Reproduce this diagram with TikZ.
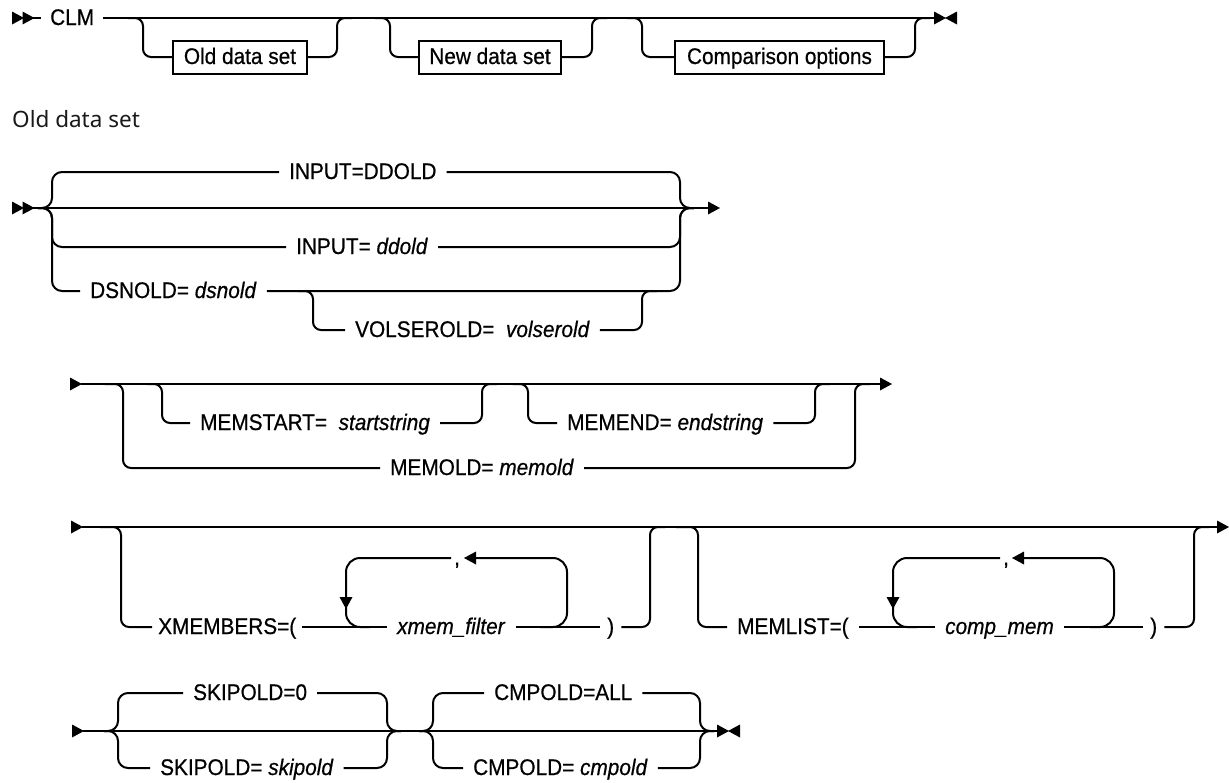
\documentclass[tikz,border=0pt]{standalone}
\usepackage{fontspec}
\setmainfont{Liberation Sans}
\newfontfamily\railfont[FakeStretch=0.92,FakeBold=0.6]{Liberation Sans}
\newfontfamily\headfont{Noto Sans}
\newcommand\rtri[2]{\fill (#1,#2-6.5) -- (#1+12,#2) -- (#1,#2+6.5) -- cycle;}
\newcommand\ltri[2]{\fill (#1+12,#2-6.5) -- (#1,#2) -- (#1+12,#2+6.5) -- cycle;}
\newcommand\dtri[2]{\fill (#1-6.5,#2-12) -- (#1,#2) -- (#1+6.5,#2-12) -- cycle;}
\begin{document}
\begin{tikzpicture}[x=1pt,y=-1pt,
  rail/.style={line width=2pt, rounded corners=8pt},
  brace/.style={line width=2pt, rounded corners=10pt},
  lp/.style={line width=2pt, rounded corners=14pt},
  lbl/.style={font=\railfont\fontsize{22.6}{26}\selectfont, inner xsep=10pt, inner ysep=0pt,
              text height=16pt, text depth=2pt, anchor=west},
  box/.style={draw, line width=2pt, font=\railfont\fontsize{22.6}{26}\selectfont, inner xsep=10.5pt,
              inner ysep=0pt, minimum height=33pt, text height=16pt, text depth=2pt}]
\useasboundingbox (0,0) rectangle (1229,782);

% ---------------- Row 1 ----------------
\rtri{12}{18}\rtri{22.5}{18}
\coordinate (s1) at (33,18);
\coordinate (e1) at (935,18);
\node[lbl, inner xsep=9pt] (clm) at (41,18) {CLM};
\draw[rail] (s1) -- (clm.west);
\draw[rail] (clm.east) -- (e1);
\node[box] (b1) at (240,57) {Old data set};
\node[box] (b2) at (490,57) {New data set};
\node[box, inner xsep=12pt] (b3) at (779.5,57) {Comparison options};
\draw[rail] (128,18) -- (143,18) -- (143,57) -- (b1.west);
\draw[rail] (b1.east) -- (337,57) -- (337,18) -- (352,18);
\draw[rail] (375,18) -- (390,18) -- (390,57) -- (b2.west);
\draw[rail] (b2.east) -- (592,57) -- (592,18) -- (607,18);
\draw[rail] (627,18) -- (642,18) -- (642,57) -- (b3.west);
\draw[rail] (b3.east) -- (915,57) -- (915,18) -- (930,18);
\rtri{934}{18}\ltri{945}{18}

% heading
\node[anchor=base west, inner sep=0pt, text=black!90,
      font=\headfont\fontsize{22.5}{26}\selectfont] (head) at (12,127) {Old data set};

% ---------------- Row 2 ----------------
\rtri{12}{208}\rtri{22.5}{208}
\coordinate (s2) at (33,208);
\coordinate (e2) at (709,208);
\draw[rail] (s2) -- (e2);
\rtri{708}{208}
\node[lbl] (i1) at (279,172) {INPUT=DDOLD};
\node[lbl] (i2) at (286,247) {INPUT= \textit{ddold}};
\node[lbl] (d1) at (80,291) {DSNOLD= \textit{dsnold}};
\node[lbl] (v1) at (345,330) {VOLSEROLD=\ \ \textit{volserold}};
\draw[brace] (38,208) -- (52,208) -- (52,172) -- (i1.west);
\draw[brace] (i1.east) -- (680,172) -- (680,208) -- (694,208);
\draw[brace] (38,208) -- (52,208) -- (52,247) -- (i2.west);
\draw[brace] (i2.east) -- (680,247) -- (680,208) -- (694,208);
\draw[brace] (38,208) -- (52,208) -- (52,291) -- (d1.west);
\draw[brace] (d1.east) -- (680,291) -- (680,208) -- (694,208);
\draw[rail] (298,291) -- (313,291) -- (313,330) -- (v1.west);
\draw[rail] (v1.east) -- (642,330) -- (642,291) -- (657,291);

% ---------------- Row 3 ----------------
\rtri{70}{384}
\coordinate (s3) at (81,384);
\coordinate (e3) at (882,384);
\draw[rail] (s3) -- (e3);
\rtri{880}{384}
\node[lbl] (ms) at (190,423) {MEMSTART=\ \ \textit{startstring}};
\node[lbl] (me) at (557,423) {MEMEND= \textit{endstring}};
\node[lbl] (mo) at (380,468) {MEMOLD= \textit{memold}};
\draw[rail] (105,384) -- (123,384) -- (123,468) -- (mo.west);
\draw[rail] (mo.east) -- (855,468) -- (855,384) -- (870,384);
\draw[rail] (147,384) -- (162,384) -- (162,423) -- (ms.west);
\draw[rail] (ms.east) -- (482,423) -- (482,384) -- (497,384);
\draw[rail] (513,384) -- (528,384) -- (528,423) -- (me.west);
\draw[rail] (me.east) -- (815,423) -- (815,384) -- (830,384);

% ---------------- Row 4 ----------------
\rtri{71}{527}
\coordinate (s4) at (82,527);
\coordinate (e4) at (1219,527);
\draw[rail] (s4) -- (e4);
\rtri{1217}{527}
\node[lbl, inner xsep=6pt] (xm) at (152,627) {XMEMBERS=(};
\node[lbl] (xf) at (387,627) {\textit{xmem\_filter}};
\node[lbl, inner xsep=7pt] (rp1) at (600,627) {)};
\node[lbl, inner xsep=3pt] (cm1) at (451,558) {,};
\draw[rail] (100,527) -- (121,527) -- (121,627) -- (xm.west);
\draw[rail] (xm.east) -- (xf.west);
\draw[rail] (xf.east) -- (rp1.west);
\draw[rail] (rp1.east) -- (650,627) -- (650,527) -- (665,527);
\draw[lp] (cm1.west) -- (346,558) -- (346,627) -- (370,627);
\draw[lp] (475,558) -- (567,558) -- (567,627) -- (540,627);
\ltri{464}{558}
\dtri{346}{609}
\node[lbl] (ml) at (727,627) {MEMLIST=(};
\node[lbl] (cmem) at (935,627) {\textit{comp\_mem}};
\node[lbl, inner xsep=7pt] (rp2) at (1143,627) {)};
\node[lbl, inner xsep=3pt] (cm2) at (1000,558) {,};
\draw[rail] (676,527) -- (698,527) -- (698,627) -- (ml.west);
\draw[rail] (ml.east) -- (cmem.west);
\draw[rail] (cmem.east) -- (rp2.west);
\draw[rail] (rp2.east) -- (1194,627) -- (1194,527) -- (1209,527);
\draw[lp] (cm2.west) -- (893,558) -- (893,627) -- (917,627);
\draw[lp] (1023,558) -- (1114,558) -- (1114,627) -- (1090,627);
\ltri{1012}{558}
\dtri{893}{609}

% ---------------- Row 5 ----------------
\rtri{72}{731}
\coordinate (s5) at (83,731);
\coordinate (e5) at (718,731);
\draw[rail] (s5) -- (e5);
\rtri{717}{731}\ltri{728}{731}
\node[lbl] (k0) at (183,693) {SKIPOLD=0};
\node[lbl] (k1) at (150,768) {SKIPOLD= \textit{skipold}};
\node[lbl] (c0) at (484,693) {CMPOLD=ALL};
\node[lbl] (c1) at (463,768) {CMPOLD= \textit{cmpold}};
\draw[brace] (104,731) -- (118,731) -- (118,693) -- (k0.west);
\draw[brace] (k0.east) -- (387,693) -- (387,731) -- (401,731);
\draw[brace] (104,731) -- (118,731) -- (118,768) -- (k1.west);
\draw[brace] (k1.east) -- (387,768) -- (387,731) -- (401,731);
\draw[brace] (419,731) -- (433,731) -- (433,693) -- (c0.west);
\draw[brace] (c0.east) -- (700,693) -- (700,731) -- (714,731);
\draw[brace] (419,731) -- (433,731) -- (433,768) -- (c1.west);
\draw[brace] (c1.east) -- (700,768) -- (700,731) -- (714,731);
\end{tikzpicture}
\end{document}
